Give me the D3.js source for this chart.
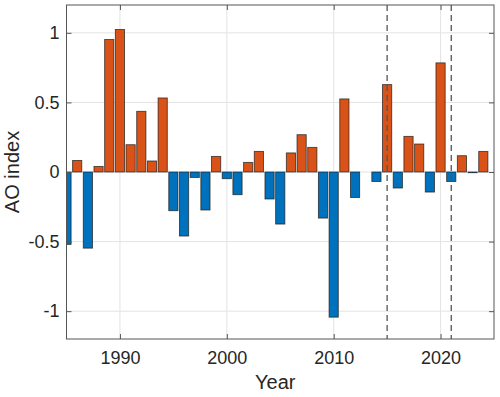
<!DOCTYPE html>
<html>
<head>
<meta charset="utf-8">
<script src="https://cdn.jsdelivr.net/npm/d3@7"></script>
<style>
  body { margin: 0; background: #fff; }
  svg { display: block; font-family: "Liberation Sans", Arial, sans-serif; }
  .tick text { font-size: 18px; fill: #262626; }
</style>
</head>
<body>
<div id="chart"></div>
<script>
// AO index per year
const years = d3.range(1985, 2025);
const aoValues = [
  -0.52, 0.083, -0.547, 0.04, 0.952, 1.024, 0.196, 0.436, 0.079, 0.532,
  -0.278, -0.46, -0.039, -0.273, 0.112, -0.048, -0.163, 0.069, 0.148, -0.194,
  -0.374, 0.137, 0.268, 0.177, -0.331, -1.043, 0.525, -0.183, 0.0, -0.068,
  0.628, -0.115, 0.256, 0.201, -0.144, 0.784, -0.068, 0.117, -0.005, 0.148
];
const xTicks = [1990, 2000, 2010, 2020];
const yTicks = [-1, -0.5, 0, 0.5, 1];
const markerYears = [2015, 2021];

const W = 500, H = 397;
const margin = {top: 5, right: 6, bottom: 58, left: 66.5};
const width = W - margin.left - margin.right,
      height = H - margin.top - margin.bottom;

const svg = d3.select("#chart").append("svg")
    .attr("width", W)
    .attr("height", H);

const g = svg.append("g")
    .attr("transform", `translate(${margin.left},${margin.top})`);

const x = d3.scaleLinear().domain([1985, 2025]).range([0, width]);
const y = d3.scaleLinear().domain([-1.2, 1.2]).range([height, 0]);

g.append("clipPath").attr("id", "clip")
  .append("rect").attr("width", width).attr("height", height);

// grid
const grid = g.append("g").attr("stroke", "#e3e3e3").attr("stroke-width", 1);
grid.selectAll(".gx").data(xTicks).join("line")
    .attr("x1", d => x(d)).attr("x2", d => x(d))
    .attr("y1", 0).attr("y2", height);
grid.selectAll(".gy").data(yTicks).join("line")
    .attr("x1", 0).attr("x2", width)
    .attr("y1", d => y(d)).attr("y2", d => y(d));

// bars
const data = years.map((yr, i) => ({year: yr, value: aoValues[i]}));
const barW = 0.86 * (x(1) - x(0));
g.append("g").attr("clip-path", "url(#clip)")
  .selectAll("rect").data(data).join("rect")
    .attr("x", d => x(d.year) - barW / 2)
    .attr("width", barW)
    .attr("y", d => y(Math.max(0, d.value)))
    .attr("height", d => Math.abs(y(d.value) - y(0)))
    .attr("fill", d => d.value >= 0 ? "#D95319" : "#0072BD")
    .attr("stroke", "#1a1a1a")
    .attr("stroke-opacity", 0.75)
    .attr("stroke-width", 0.9);

// dashed marker lines
g.selectAll(".marker").data(markerYears).join("line")
    .attr("x1", d => x(d)).attr("x2", d => x(d))
    .attr("y1", 0).attr("y2", height)
    .attr("stroke", "#555")
    .attr("stroke-width", 1.3)
    .attr("stroke-dasharray", "6,4");

// axes (ticks pointing inward, box)
const tickLen = 5;
g.append("g").attr("transform", `translate(0,${height})`)
    .call(d3.axisBottom(x).tickValues(xTicks).tickFormat(d3.format("d"))
      .tickSizeInner(-tickLen).tickSizeOuter(0).tickPadding(12));
g.append("g")
    .call(d3.axisLeft(y).tickValues(yTicks).tickFormat(d => d)
      .tickSizeInner(-tickLen).tickSizeOuter(0).tickPadding(7));
g.append("g")
    .call(d3.axisTop(x).tickValues(xTicks).tickFormat("").tickSizeInner(-tickLen).tickSizeOuter(0));
g.append("g").attr("transform", `translate(${width},0)`)
    .call(d3.axisRight(y).tickValues(yTicks).tickFormat("").tickSizeInner(-tickLen).tickSizeOuter(0));

g.selectAll(".domain").remove();
g.selectAll(".tick line").attr("stroke", "#555");

g.append("rect")
    .attr("width", width).attr("height", height)
    .attr("fill", "none").attr("stroke", "#555").attr("stroke-width", 1);

// labels
svg.append("text")
    .attr("x", margin.left + width / 2 - 5)
    .attr("y", 389)
    .attr("text-anchor", "middle")
    .attr("font-size", 20)
    .attr("fill", "#262626")
    .text("Year");

svg.append("text")
    .attr("transform", `translate(19,${margin.top + height / 2}) rotate(-90)`)
    .attr("text-anchor", "middle")
    .attr("font-size", 20)
    .attr("fill", "#262626")
    .text("AO index");
</script>
</body>
</html>
